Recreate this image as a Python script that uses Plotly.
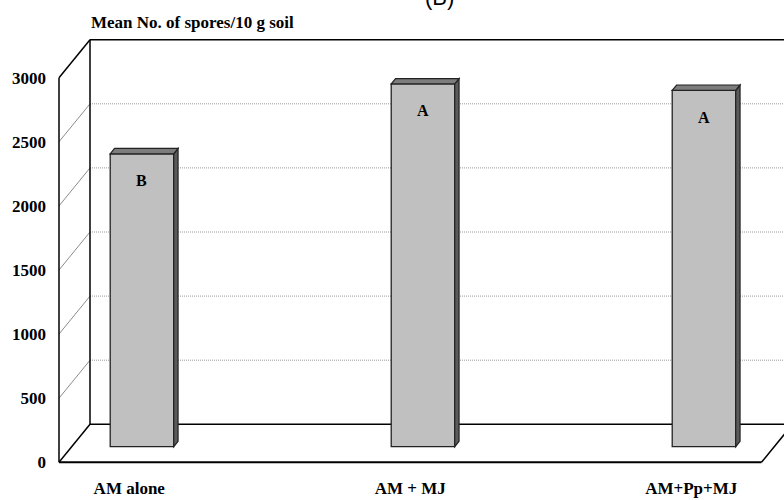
import plotly.graph_objects as go

# ---------------- data ----------------
categories = ["AM alone", "AM + MJ", "AM+Pp+MJ"]
spores = [2285, 2830, 2780]
letters = ["B", "A", "A"]
y_ticks = [0, 500, 1000, 1500, 2000, 2500, 3000]
y_title = "Mean No. of spores/10 g soil"
panel = "(B)"

# ---------------- geometry (pixels) ----------------
W, H = 784, 500
X0_PX = 59.0          # front-left edge of the 3D box
CAT_PX = 281.0        # pixels per category
Y0_PX = 462.3         # front floor edge (value 0)
VAL_PX = 0.1282       # pixels per unit of value
BACK_DX, BACK_DY = 31.0, 38.0   # depth offset of the back wall
BAR_F = 0.41          # depth position of the bar front faces
BAR_DEPTH = 0.14      # bar depth as fraction of box depth
BAR_W = 0.226

SERIF = "Liberation Serif"
n = len(categories)
xl, xr = -0.25, n - 0.75
top = y_ticks[-1]


def x_from_px(px):
    return (px - X0_PX) / CAT_PX - 0.25


x_range = [x_from_px(0), x_from_px(W)]
y_range = [(Y0_PX - H) / VAL_PX, Y0_PX / VAL_PX]

bx = BACK_DX / CAT_PX
by = BACK_DY / VAL_PX
sx = BAR_F * BACK_DX / CAT_PX
sy = BAR_F * BACK_DY / VAL_PX
ddx = BAR_DEPTH * BACK_DX / CAT_PX
ddy = BAR_DEPTH * BACK_DY / VAL_PX

shapes = []


def seg(x0, y0, x1, y1, color="black", width=1.5, dash="solid"):
    shapes.append(dict(type="line", xref="x", yref="y", x0=x0, y0=y0, x1=x1, y1=y1,
                       line=dict(color=color, width=width, dash=dash), layer="below"))


# gridlines on walls
for t in y_ticks[1:-1]:
    seg(xl, t, xl + bx, t + by, color="#8c8c8c", width=1)
    seg(xl + bx, t + by, xr + bx, t + by, color="#9a9a9a", width=1, dash="1px,1px")

# box frame
seg(xl, 0, xl, top)
seg(xl, top, xl + bx, top + by)
seg(xl + bx, by, xl + bx, top + by)
seg(xl + bx, top + by, xr + bx, top + by)
seg(xl + bx, by, xr + bx, by)
seg(xl, 0, xr, 0, width=2)
seg(xl, 0, xl + bx, by)
seg(xr, 0, xr + bx, by)
seg(xr + bx, by, xr + bx, top + by)

# bar 3D faces (computed from the values)
xs = list(range(n))
for i, v in zip(xs, spores):
    a, b = i - BAR_W / 2, i + BAR_W / 2
    top_path = f"M{a},{v} L{a + ddx},{v + ddy} L{b + ddx},{v + ddy} L{b},{v} Z"
    side_path = f"M{b},0 L{b},{v} L{b + ddx},{v + ddy} L{b + ddx},{ddy} Z"
    for p, col in ((side_path, "#5a5a5a"), (top_path, "#7d7d7d")):
        shapes.append(dict(type="path", xref="x2", yref="y2", path=p,
                           fillcolor=col, line=dict(color="#222222", width=1.2),
                           layer="above"))

fig = go.Figure()
fig.add_trace(go.Bar(
    x=xs, y=spores, width=BAR_W, xaxis="x2", yaxis="y2",
    marker=dict(color="#c0c0c0", line=dict(color="#222222", width=1.3)),
    hovertext=categories, showlegend=False,
))

annotations = []
for i, v, L in zip(xs, spores, letters):
    annotations.append(dict(xref="x2", yref="y2", x=i, y=v, yshift=-27, text=f"<b>{L}</b>",
                            showarrow=False, font=dict(family=SERIF, size=16, color="black")))
annotations.append(dict(xref="paper", yref="paper", x=89 / W, y=1 - 22 / H,
                        xanchor="left", yanchor="middle", text=f"<b>{y_title}</b>",
                        showarrow=False, font=dict(family=SERIF, size=17, color="black")))
annotations.append(dict(xref="paper", yref="paper", x=440 / W, y=1 - 12 / H,
                        xanchor="center", yanchor="bottom", text=panel,
                        showarrow=False, font=dict(family="Liberation Sans", size=22, color="black")))

fig.update_layout(
    width=W, height=H,
    margin=dict(l=0, r=0, t=0, b=0, pad=0, autoexpand=False),
    paper_bgcolor="white", plot_bgcolor="white",
    showlegend=False,
    shapes=shapes, annotations=annotations,
    xaxis=dict(range=x_range, domain=[0, 1], anchor="free", position=(H - Y0_PX) / H,
               tickmode="array", tickvals=xs, ticktext=categories, automargin=False,
               showgrid=False, zeroline=False, showline=False, ticks="",
               ticklabelstandoff=14,
               tickfont=dict(family=SERIF, size=17, color="black", weight="bold")),
    yaxis=dict(range=y_range, domain=[0, 1], anchor="free", position=X0_PX / W,
               tickmode="array", tickvals=y_ticks, automargin=False,
               showgrid=False, zeroline=False, showline=False, ticks="",
               ticklabelstandoff=13,
               tickfont=dict(family=SERIF, size=17, color="black", weight="bold")),
    xaxis2=dict(range=[x_range[0] - sx, x_range[1] - sx], overlaying="x", visible=False,
                anchor="y2", automargin=False),
    yaxis2=dict(range=[y_range[0] - sy, y_range[1] - sy], overlaying="y", visible=False,
                anchor="x2", automargin=False),
)

fig.write_html(
    "out.html",
    config={"displayModeBar": False},
    post_script="document.body.style.margin='0';document.body.style.overflow='hidden';",
)
